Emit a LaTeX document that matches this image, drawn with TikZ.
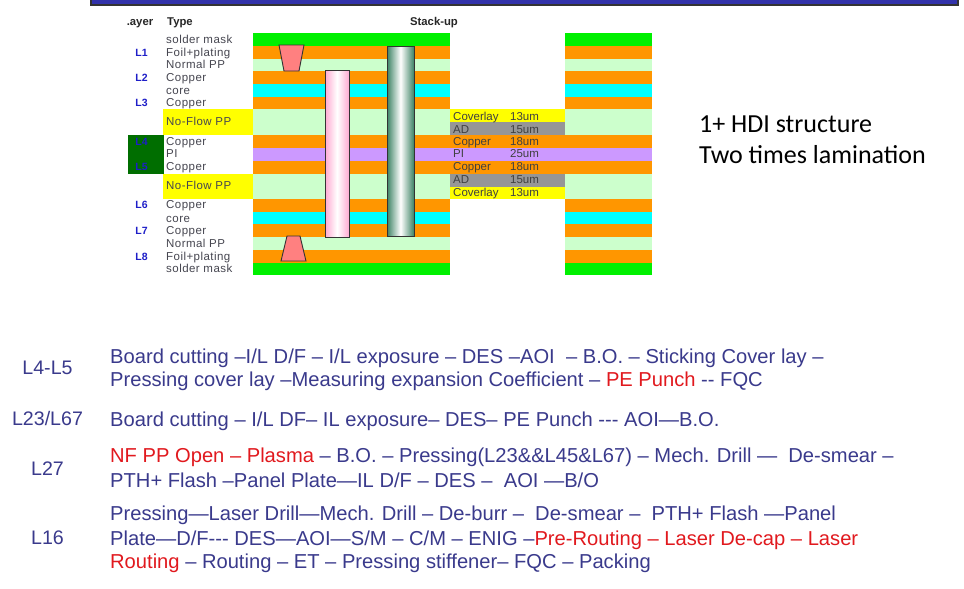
\documentclass[tikz,border=0pt]{standalone}
\usepackage{fontspec}
\setmainfont{Liberation Sans}
\newfontfamily\notefont{Carlito}
\newfontfamily\spaced[LetterSpace=4]{Liberation Sans}
\definecolor{sgreen}{RGB}{0,240,0}
\definecolor{orng}{RGB}{255,150,0}
\definecolor{pale}{RGB}{204,255,204}
\definecolor{cyn}{RGB}{0,255,255}
\definecolor{purp}{RGB}{204,153,255}
\definecolor{ylw}{RGB}{255,255,0}
\definecolor{gry}{RGB}{150,150,150}
\definecolor{dgrn}{RGB}{0,110,0}
\definecolor{lay}{RGB}{30,30,200}
\definecolor{typ}{RGB}{70,70,80}
\definecolor{navy}{RGB}{58,58,140}
\definecolor{redt}{RGB}{225,25,30}
\definecolor{bar}{RGB}{50,50,170}
\definecolor{via}{RGB}{255,128,128}
\definecolor{pk}{RGB}{255,170,210}
\definecolor{gn}{RGB}{60,130,100}
\tikzset{
  x=1pt,y=-1pt,
  lab/.style={inner sep=0pt,anchor=base west,font=\spaced\fontsize{11.5}{12}\selectfont,text=typ},
  lnum/.style={inner sep=0pt,anchor=base,font=\fontsize{10.5}{12}\selectfont\bfseries,text=lay},
  hdr/.style={inner sep=0pt,anchor=base,font=\fontsize{11.3}{12}\selectfont\bfseries,text=black!85},
  thk/.style={inner sep=0pt,anchor=base west,font=\fontsize{11.5}{12}\selectfont,text=black!75},
  proc/.style={inner sep=0pt,anchor=base west,font=\fontsize{20.15}{22}\selectfont,text=navy},
  side/.style={inner sep=0pt,anchor=base,font=\fontsize{19.6}{22}\selectfont,text=navy},
  note/.style={inner sep=0pt,anchor=base west,font=\notefont\fontsize{26}{28}\selectfont,text=black},
  hole/.style={draw=black!80,line width=0.9pt},
}
\newcommand{\rd}[1]{\textcolor{redt}{#1}}
\begin{document}
\begin{tikzpicture}
\useasboundingbox (0,0) rectangle (964,589);
\fill[white] (0,0) rectangle (964,589);
% top bar
\fill[bar] (91,-2) rectangle (958,5);
\draw[black!80,line width=1.2pt] (91,-2) -- (91,5) -- (958,5) -- (958,-2);
% layers
\foreach \yA/\yB/\c in {33/45.5/sgreen,45.5/59/orng,59/71/pale,71/84/orng,84/97/cyn,97/109/orng,109/135/pale,174/199/pale,199/212/orng,212/224/cyn,224/237/orng,237/250/pale,250/263/orng,263/275/sgreen}{
  \fill[\c] (253,\yA) rectangle (450,\yB);
  \fill[\c] (565,\yA) rectangle (652,\yB);
}
\foreach \yA/\yB/\c in {135/148/orng,148/161/purp,161/174/orng}{
  \fill[\c] (253,\yA) rectangle (652,\yB);
}
% centre stack
\fill[ylw] (450,109) rectangle (565,122);
\fill[gry] (450,122) rectangle (565,135);
\fill[gry] (450,174) rectangle (565,186.5);
\fill[ylw] (450,186.5) rectangle (565,199);
% yellow no-flow
\fill[ylw] (163,109) rectangle (253,135);
\fill[ylw] (163,174) rectangle (253,199);
% dark green
\fill[dgrn] (128,135) rectangle (164,174);
% laser vias
\draw[hole,fill=via] (279,45) -- (304,45) -- (299,71) -- (284,71) -- cycle;
\draw[hole,fill=via] (287,236) -- (300,236) -- (306,261) -- (281,261) -- cycle;
% through holes
\draw[hole,left color=pk,right color=pk,middle color=white] (325,70) rectangle (349,237);
\draw[hole,left color=gn,right color=gn,middle color=white] (387,46) rectangle (414,236);
% header
\node[hdr] (h1) at (140,25) {.ayer};
\node[hdr,anchor=base west] (h2) at (167,25) {Type};
\node[hdr] (h3) at (434,25) {Stack-up};
% types
\foreach \n/\y/\t in {a/43/solder mask,b/56/Foil+plating,c/68/Normal PP,d/81/Copper,e/94/core,f/106/Copper,g/125/No-Flow PP,h/145/Copper,i/157/PI,j/170/Copper,k/189/No-Flow PP,l/208/Copper,m/222/core,n/234/Copper,o/247/Normal PP,p/260/Foil+plating,q/272/solder mask}{
  \node[lab] (t\n) at (166,\y) {\t};
}
\foreach \n/\y in {L1/56,L2/81,L3/106,L4/145,L5/170,L6/208,L7/234,L8/260}{
  \node[lnum] (\n) at (141.5,\y) {\n};
}
% thickness
\foreach \n/\y/\a/\b in {s/120/Coverlay/13um,u/133/AD/15um,v/145/Copper/18um,w/157/PI/25um,x/170/Copper/18um,y/183/AD/15um,z/196/Coverlay/13um}{
  \node[thk] (m\n) at (453,\y) {\a};
  \node[thk] (r\n) at (510,\y) {\b};
}
% note
\node[note] (n1) at (699,132) {1+ HDI structure};
\node[note] (n2) at (699,163) {Two times lamination};
% process
\node[side] (s1) at (47.5,374.5) {L4-L5};
\node[proc] (p1a) at (110,363) {Board cutting –I/L D/F – I/L exposure – DES –AOI \ – B.O. – Sticking Cover lay –};
\node[proc] (p1b) at (110,386) {Pressing cover lay –Measuring expansion Coefficient – \rd{PE Punch} -\kern0pt- FQC};
\node[side] (s2) at (47.5,425.5) {L23/L67};
\node[proc] (p2) at (110,426) {Board cutting – I/L DF– IL exposure– DES– PE Punch -\kern0pt-\kern0pt- AOI—B.O.};
\node[side] (s3) at (47.5,475) {L27};
\node[proc] (p3a) at (110,462.5) {\rd{NF PP Open – Plasma} – B.O. – Pressing(L23\&\&L45\&L67) – Mech. Drill — \ De-smear –};
\node[proc] (p3b) at (110,487) {PTH+ Flash –Panel Plate—IL D/F – DES – \ AOI —B/O};
\node[side] (s4) at (47.5,544.5) {L16};
\node[proc] (p4a) at (110,520.5) {Pressing—Laser Drill—Mech. Drill – De-burr – \ De-smear – \ PTH+ Flash —Panel};
\node[proc] (p4b) at (110,545) {Plate—D/F-\kern0pt-\kern0pt- DES—AOI—S/M – C/M – ENIG –\rd{Pre-Routing – Laser De-cap – Laser}};
\node[proc] (p4c) at (110,568) {\rd{Routing} – Routing – ET – Pressing stiffener– FQC – Packing};
\end{tikzpicture}
\end{document}
